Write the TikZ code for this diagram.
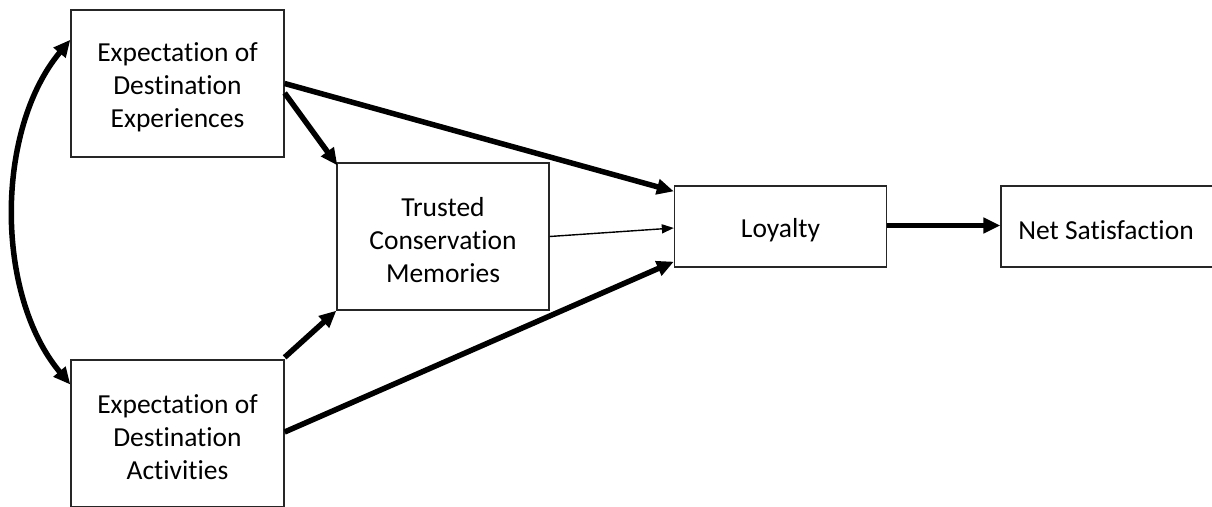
\documentclass[tikz,border=0pt]{standalone}
\usepackage{fontspec}
\setmainfont[Ligatures=NoCommon]{Carlito}
\usetikzlibrary{arrows.meta,calc}
\begin{document}
\begin{tikzpicture}[x=1pt,y=-1pt,
  txt/.style={align=center,inner sep=0pt,font=\fontsize{27.5}{33}\selectfont,yshift=-3.5pt},
  box/.style={draw=black!85,line width=1.3pt,rectangle,inner sep=0pt},
  bigbox/.style={box,minimum width=213pt,minimum height=147pt},
  smallbox/.style={box,minimum width=212pt,minimum height=81pt},
  heavy/.style={line width=5.5pt,-{Triangle[length=17pt,width=15pt]}},
  light/.style={line width=1.4pt,-{Triangle[length=12pt,width=9pt]}}]
\clip (0,0) rectangle (1212,506);
\fill[white] (0,0) rectangle (1212,506);

% boxes, each with its centred caption
\node[bigbox,label={[txt,name=At]center:Expectation of\\Destination\\Experiences}] (A) at (177.5,83.5) {};
\node[bigbox,label={[txt,name=Bt]center:Expectation of\\Destination\\Activities}] (B) at (177.5,433.5) {};
\node[bigbox,minimum width=212pt,label={[txt,name=Ct]center:Trusted\\Conservation\\Memories}] (C) at (443,236.5) {};
\node[smallbox,label={[txt,name=Dt]center:Loyalty}] (D) at (780.5,226.5) {};
\node[smallbox,label={[txt,name=Et,xshift=-1pt]center:Net Satisfaction}] (E) at (1107,226.5) {};

% anchor points for the curved correlation arrow
\coordinate (Aw) at ($(A.north west)!0.205!(A.south west)$);
\coordinate (Bw) at ($(B.north west)!0.17!(B.south west)$);

% paths
\draw[heavy,{Triangle[length=17pt,width=15pt]}-{Triangle[length=17pt,width=15pt]}]
  (Aw) .. controls (-5,130) and (-5,295) .. (Bw);
\draw[heavy] ([yshift=-9.5pt]A.east) -- ([shift={(1pt,-3pt)}]C.north west);
\draw[heavy] (A.east) -- ([yshift=-6pt]D.north west);
\draw[light] (C.east) -- ([yshift=-1.5pt]D.west);
\draw[heavy] ([yshift=2pt]B.north east) -- (C.south west);
\draw[heavy] ([yshift=1.5pt]B.east) -- ([yshift=6pt]D.south west);
\draw[heavy] ([yshift=1pt]D.east) -- ([yshift=1pt]E.west);
\end{tikzpicture}
\end{document}
